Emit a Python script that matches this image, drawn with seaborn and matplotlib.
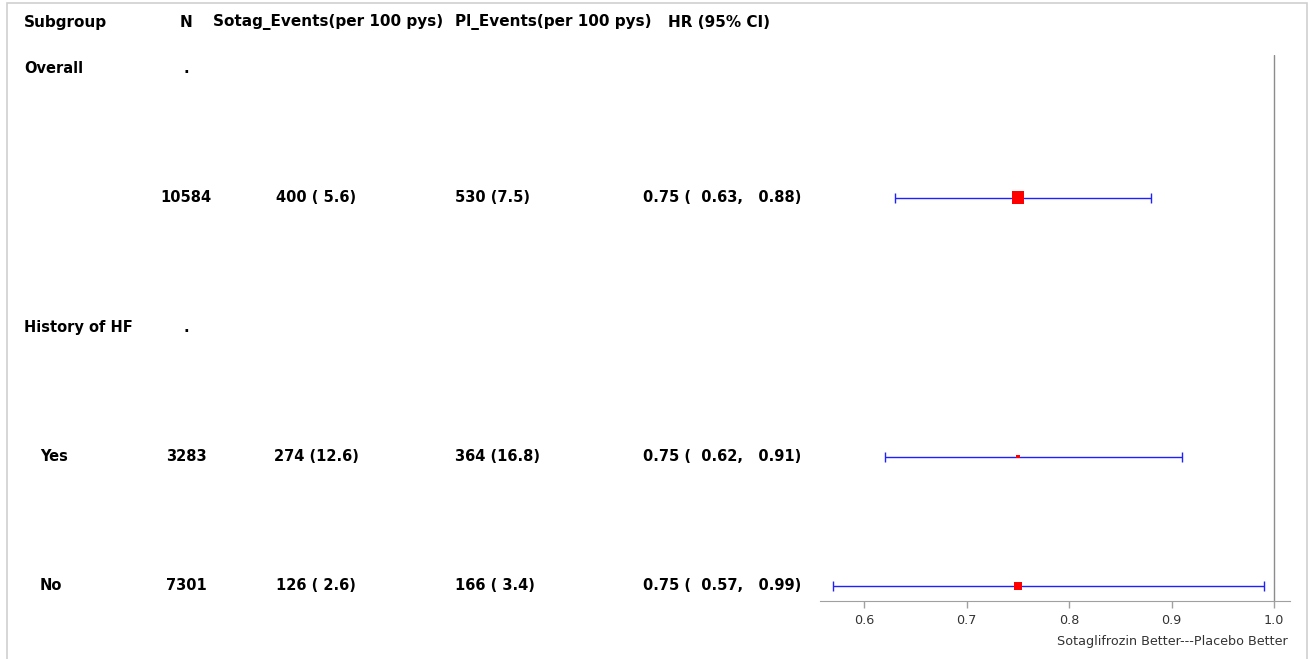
import numpy as np
import pandas as pd
import matplotlib.pyplot as plt
import matplotlib.transforms as mtransforms
from matplotlib.patches import Rectangle
import seaborn as sns

# Table data.
subgroups = ['Overall', '', 'History of HF', 'Yes', 'No']
n_col = ['.', '10584', '.', '3283', '7301']
sotag_col = ['', '400 ( 5.6)', '', '274 (12.6)', '126 ( 2.6)']
pl_col = ['', '530 (7.5)', '', '364 (16.8)', '166 ( 3.4)']
hr_col = ['', '0.75 (  0.63,   0.88)', '', '0.75 (  0.62,   0.91)', '0.75 (  0.57,   0.99)']

# Forest plot rows (row index in the table).
est_rows = [1, 3, 4]
hr = [0.75, 0.75, 0.75]
lcl = [0.63, 0.62, 0.57]
ucl = [0.88, 0.91, 0.99]
weight = [75, 8, 32]

headers = ['Subgroup', 'N', 'Sotag_Events(per 100 pys)', 'Pl_Events(per 100 pys)', 'HR (95% CI)']

sns.set_style('white')
plt.rcParams['font.family'] = ['DejaVu Sans']

W, H = 1308, 659
fig = plt.figure(figsize=(W / 100, H / 100), dpi=100)

# forest panel placed in pixel coordinates
left, right, top, bottom = 820, 1290, 55, 601
ax = fig.add_axes([left / W, (H - bottom) / H, (right - left) / W, (bottom - top) / H])

row_px = 129.5
ylim = (4 + (bottom - 586) / row_px, -(68 - top) / row_px)
ax.set_xlim(0.557, 1.0156)

forest = pd.DataFrame({'row': est_rows, 'hr': hr, 'lcl': lcl, 'ucl': ucl, 'w': weight})

ax.errorbar(forest['hr'], forest['row'],
            xerr=[forest['hr'] - forest['lcl'], forest['ucl'] - forest['hr']],
            fmt='none', ecolor='#1f1fff', elinewidth=1, capsize=3.6, capthick=1, zorder=2)
sns.scatterplot(data=forest, x='hr', y='row', size='w', sizes=(8, 75), marker='s',
                color='red', edgecolor='none', legend=False, ax=ax, zorder=3)
ax.set_ylim(*ylim)
ax.axvline(1.0, color='#8c8c8c', linewidth=1, zorder=1)

sns.despine(ax=ax, left=True, top=True, right=True)
ax.spines['bottom'].set_color('#a0a0a0')
ax.set_yticks([])
ax.set_ylabel('')
ax.set_xticks([0.6, 0.7, 0.8, 0.9, 1.0])
ax.set_xticklabels(['0.6', '0.7', '0.8', '0.9', '1.0'])
ax.tick_params(axis='x', direction='out', length=5, width=1, color='#a0a0a0',
               labelsize=9.2, labelcolor='#333333', pad=4, bottom=True)
ax.set_xlabel('')
fig.text(1288 / W, (H - 641) / H, 'Sotaglifrozin Better---Placebo Better',
         ha='right', va='center', fontsize=9.2, color='#333333')

# table text: x in figure fraction, y in forest rows
trans = mtransforms.blended_transform_factory(fig.transFigure, ax.transData)
fs = 10.5
header_row = -(68 - 22) / row_px
hdr_x = [(24, 'left'), (186, 'center'), (213, 'left'), (455, 'left'), (668, 'left')]
for (x, ha), lab in zip(hdr_x, headers):
    ax.text(x / W, header_row, lab, transform=trans, ha=ha, va='center',
            fontsize=11, fontweight='bold', color='black', clip_on=False)

for i in range(len(subgroups)):
    indent = 40 if subgroups[i] in ('Yes', 'No') else 24
    cells = [(indent, 'left', subgroups[i]), (186, 'center', n_col[i]),
             (316, 'center', sotag_col[i]), (455, 'left', pl_col[i]),
             (643, 'left', hr_col[i])]
    for x, ha, s in cells:
        ax.text(x / W, i, s, transform=trans, ha=ha, va='center',
                fontsize=fs, fontweight='bold', color='black', clip_on=False)

# light frame round the graph
fig.patches.append(Rectangle((7 / W, -0.01), (W - 8) / W, (H - 3) / H + 0.01,
                             transform=fig.transFigure, fill=False,
                             edgecolor='#d0d0d0', linewidth=1.2))

fig.savefig('out.png', dpi=100)
